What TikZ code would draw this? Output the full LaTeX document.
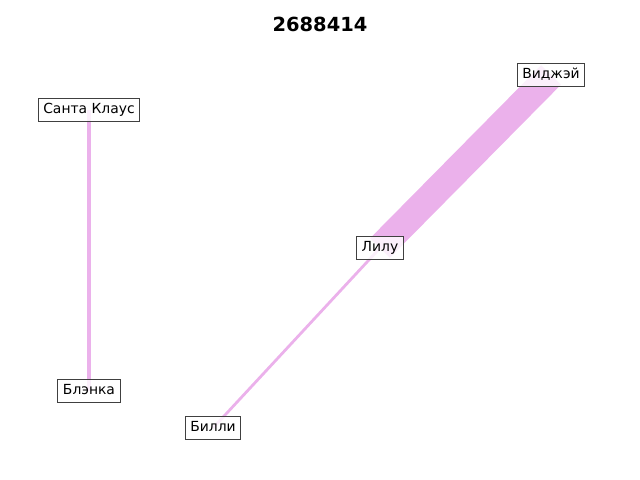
\documentclass[tikz,border=0pt]{standalone}
\usepackage{fontspec}
\setmainfont{DejaVu Sans}
\usetikzlibrary{backgrounds}
\definecolor{edgepink}{RGB}{235,177,235}
\definecolor{boxgray}{RGB}{64,64,64}
\begin{document}
\begin{tikzpicture}[x=0.72pt,y=-0.72pt,
  person/.style={draw=boxgray, line width=0.7pt, fill=white, fill opacity=0.8, text opacity=1,
    font=\fontsize{10}{12}\selectfont, inner xsep=3.8pt, inner ysep=3.6pt, text height=7.6pt, text depth=2.3pt},
  link/.style={draw=edgepink, line cap=butt}]
\useasboundingbox (0,0) rectangle (640,480);
\node[font=\bfseries\fontsize{14}{16}\selectfont] (title) at (320,24) {2688414};
\node[person] (santa) at (89,110) {Санта Клаус};
\node[person] (blenka) at (89,391) {Блэнка};
\node[person] (vijay) at (551,75) {Виджэй};
\node[person] (lilu) at (380,248) {Лилу};
\node[person] (billi) at (213,428) {Билли};
\begin{scope}[on background layer]
\draw[link, line width=3.2pt] (santa.center) -- (blenka.center);
\draw[link, line width=20pt] (lilu.center) -- (vijay.center);
\draw[link, line width=2pt] (billi.center) -- (lilu.center);
\end{scope}
\end{tikzpicture}
\end{document}
